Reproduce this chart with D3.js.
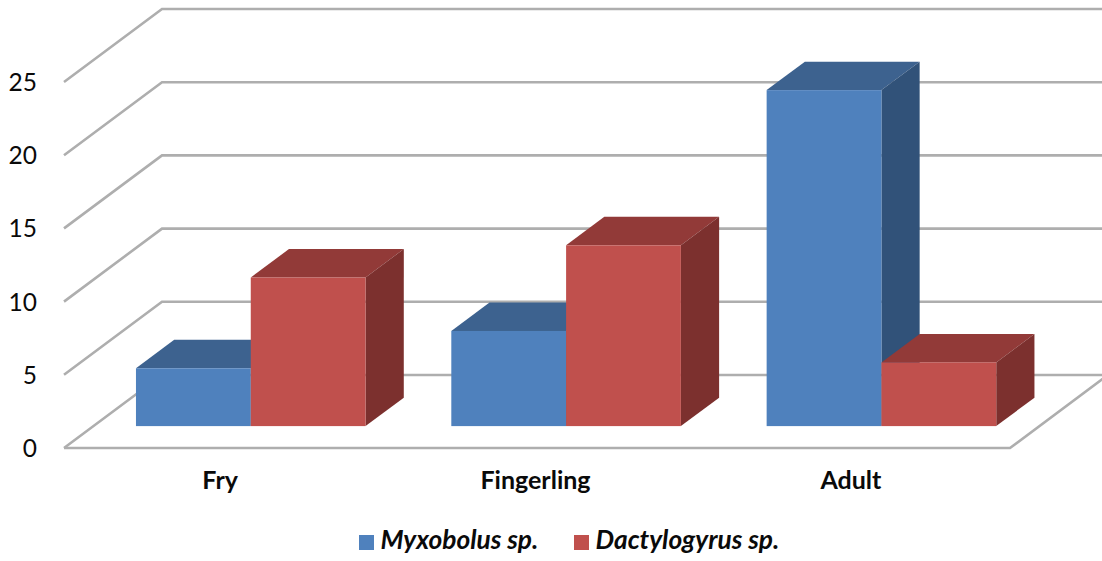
<!DOCTYPE html>
<html>
<head>
<meta charset="utf-8">
<script src="https://cdn.jsdelivr.net/npm/d3@7"></script>
<style>
    html, body { margin: 0; padding: 0; background: #fff; }
    svg { display: block; }
    text { font-family: Lato, "Open Sans", sans-serif; fill: #0a0a0a; }
</style>
</head>
<body>
<script>
// Chart values
const categories = ['Fry', 'Fingerling', 'Adult'];
const seriesNames = ['Myxobolus sp.', 'Dactylogyrus sp.'];
const myxobolus = [3.95, 6.5, 22.95];
const dactylogyrus = [10.15, 12.35, 4.35];
const yTicks = [0, 5, 10, 15, 20, 25];

const width = 1102, height = 561;
const faces = [
    { front: '#4f81bd', top: '#3d628f', side: '#315279' },
    { front: '#c0504d', top: '#923a38', side: '#7c302e' }
];

// Oblique projection of the 3D box
const wallDx = 98, wallDy = -73;
const barStart = 0.3, barEnd = 0.69;

const svg = d3.select('body').append('svg')
    .attr('width', width)
    .attr('height', height);

const x = d3.scaleBand().domain(categories).range([64, 1010]).paddingInner(0.27).paddingOuter(0.135);
const xLabel = d3.scaleBand().domain(categories).range([64, 1010]);
const xSeries = d3.scaleBand().domain(seriesNames).range([0, x.bandwidth() - 0.6]);
const y = d3.scaleLinear().domain([0, 25]).range([448, 82]);

// Gridlines on the back wall and side wall, floor outline
const grid = svg.append('g')
    .attr('fill', 'none')
    .attr('stroke', '#aeaeae')
    .attr('stroke-width', 2.6);

yTicks.forEach(t => {
    const yy = y(t);
    grid.append('path').attr('d', `M64,${yy}L${64 + wallDx},${yy + wallDy}L1102,${yy + wallDy}`);
});
grid.append('path').attr('d', `M64,${y(0)}L1010,${y(0)}L${1010 + wallDx},${y(0) + wallDy}`);

// Value axis labels
svg.append('g').selectAll('text')
    .data(yTicks)
    .join('text')
    .attr('x', 37)
    .attr('y', d => y(d) + 9)
    .attr('text-anchor', 'end')
    .attr('font-size', 24.5)
    .text(d => d);

// One box per value, left to right so nearer faces cover the previous ones
function drawBar(g, cat, value, idx) {
    const left = x(cat) + xSeries(seriesNames[idx]) + wallDx * barStart;
    const right = left + xSeries.bandwidth();
    const base = y(0) + wallDy * barStart;
    const topY = base - (y(0) - y(value));
    const dx = wallDx * (barEnd - barStart);
    const dy = wallDy * (barEnd - barStart);
    const c = faces[idx];
    g.append('path').attr('fill', c.top)
        .attr('d', `M${left},${topY}L${left + dx},${topY + dy}L${right + dx},${topY + dy}L${right},${topY}Z`);
    g.append('path').attr('fill', c.side)
        .attr('d', `M${right},${topY}L${right + dx},${topY + dy}L${right + dx},${base + dy}L${right},${base}Z`);
    g.append('rect').attr('fill', c.front)
        .attr('x', left).attr('y', topY)
        .attr('width', right - left).attr('height', base - topY);
}

const bars = svg.append('g');
categories.forEach((cat, i) => {
    drawBar(bars, cat, myxobolus[i], 0);
    drawBar(bars, cat, dactylogyrus[i], 1);
});

// Category labels
svg.append('g').selectAll('text')
    .data(categories)
    .join('text')
    .attr('x', d => xLabel(d) + xLabel.bandwidth() / 2 - 1.5)
    .attr('y', 489)
    .attr('text-anchor', 'middle')
    .attr('font-size', 25)
    .attr('font-weight', 700)
    .text(d => d);

// Legend
const legendX = [359, 574];
const legend = svg.append('g');
seriesNames.forEach((name, i) => {
    legend.append('rect')
        .attr('x', legendX[i]).attr('y', 535)
        .attr('width', 15).attr('height', 15)
        .attr('fill', faces[i].front);
    legend.append('text')
        .attr('x', legendX[i] + 21.5)
        .attr('y', 549)
        .attr('font-size', 26.3)
        .attr('font-weight', 700)
        .attr('font-style', 'italic')
        .text(name);
});
</script>
</body>
</html>
